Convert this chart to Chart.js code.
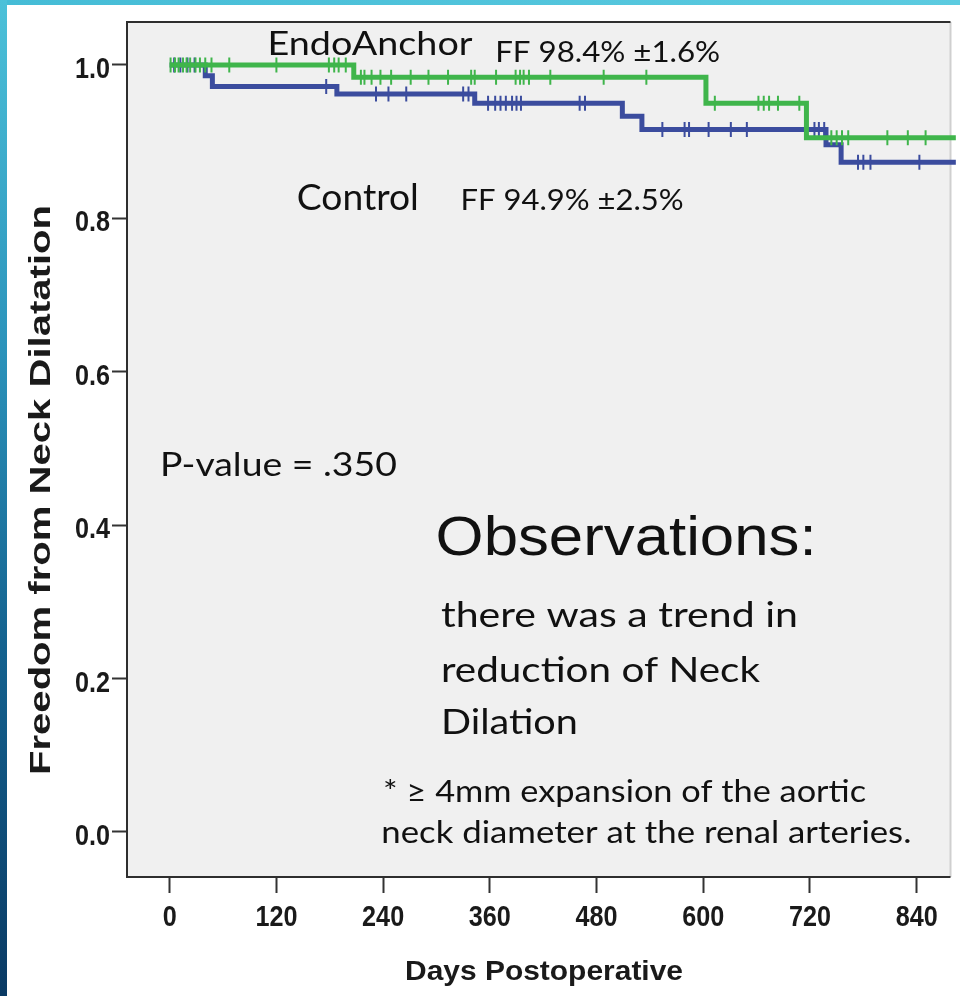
<!DOCTYPE html>
<html>
<head>
<meta charset="utf-8">
<title>Freedom from Neck Dilatation</title>
<script src="https://cdn.jsdelivr.net/npm/chart.js@4.4.1/dist/chart.umd.min.js"></script>
<style>
  html, body { margin: 0; padding: 0; background: #fff; overflow: hidden; }
  #wrap { position: relative; width: 960px; height: 996px; }
  #topbar { position: absolute; left: 0; top: 0; width: 960px; height: 5px; background: linear-gradient(to right, #45bcd6, #5ccbe0); }
  #sidebar { position: absolute; left: 0; top: 0; width: 7px; height: 996px; background: linear-gradient(to bottom, #4cc1d9 0%, #2b93bb 35%, #14628f 65%, #0a3a64 100%); }
  #chart { position: absolute; left: 0; top: 0; }
</style>
</head>
<body>
<div id="wrap">
  <div id="topbar"></div>
  <div id="sidebar"></div>
  <canvas id="chart" width="960" height="996"></canvas>
</div>
<script>
// axis ticks
const xTicks = [0, 120, 240, 360, 480, 600, 720, 840];
const yTicks = [0.0, 0.2, 0.4, 0.6, 0.8, 1.0];

// EndoAnchor group (green): day of each step and survival after it
const endoDays = [0, 207, 603, 716, 884];
const endoSurvival = [1.0, 0.984, 0.950, 0.905, 0.905];
const endoCensored = [1, 6, 10, 15, 19, 23, 29, 34, 40, 47, 67, 120, 179, 185, 190, 198,
  215, 219, 227, 237, 249, 271, 291, 313, 339, 343, 367, 389, 394, 398, 404, 428, 488, 536,
  613, 662, 668, 674, 684, 708, 744, 750, 756, 763, 807, 830, 850];

// Control group (blue)
const controlDays = [0, 40, 48, 188, 343, 509, 531, 738, 755, 884];
const controlSurvival = [1.0, 0.986, 0.972, 0.962, 0.950, 0.933, 0.916, 0.896, 0.873, 0.873];
const controlCensored = [5, 12, 20, 28, 176, 232, 246, 266, 330, 336, 358, 366, 372, 378,
  385, 390, 395, 461, 467, 554, 579, 584, 606, 631, 649, 725, 730, 736, 774, 780, 788, 843];

const green = "#3fb54b";
const blue = "#3b4c9e";

// text on the plot, placed in data coordinates (day, value)
const notes = [
  { text: "EndoAnchor", x: 110, y: 1.013, size: 33, width: 205 },
  { text: "FF 98.4% \u00b11.6%", x: 366, y: 1.004, size: 29, width: 225 },
  { text: "Control", x: 143, y: 0.811, size: 36, width: 122 },
  { text: "FF 94.9% \u00b12.5%", x: 327, y: 0.811, size: 29, width: 223 },
  { text: "P-value = .350", x: -11, y: 0.464, size: 33, width: 237 },
  { text: "Observations:", x: 299, y: 0.361, size: 56, width: 381, family: "'Liberation Sans', Arial, sans-serif" },
  { text: "there was a trend in", x: 305, y: 0.267, size: 34, width: 357 },
  { text: "reduction of Neck", x: 305, y: 0.196, size: 34, width: 319 },
  { text: "Dilation", x: 305, y: 0.128, size: 34, width: 137 },
  { text: "* \u2265 4mm expansion of the aortic", x: 240, y: 0.039, size: 30, width: 483 },
  { text: "neck diameter at the renal arteries.", x: 238, y: -0.014, size: 30, width: 530 }
];

function levelAt(days, surv, d) {
  let v = surv[0];
  for (let i = 0; i < days.length; i++) {
    if (days[i] <= d) v = surv[i];
  }
  return v;
}

function stepPoints(days, surv) {
  return days.map((d, i) => ({ x: d, y: surv[i] }));
}

function censorPoints(days, surv, cens) {
  return cens.map((d) => ({ x: d, y: levelAt(days, surv, d) }));
}

function fitText(ctx, text, x, y, font, width) {
  ctx.font = font;
  const w = ctx.measureText(text).width;
  ctx.save();
  ctx.translate(x, y);
  ctx.scale(width ? width / w : 1, 1);
  ctx.fillText(text, 0, 0);
  ctx.restore();
}

// narrow bold tick labels (Arial Narrow look)
function narrowText(ctx, text, x, y, align) {
  ctx.save();
  ctx.font = "bold 30px 'Liberation Sans', Arial, sans-serif";
  ctx.textAlign = align;
  ctx.translate(x, y);
  ctx.scale(0.84, 1);
  ctx.fillText(text, 0, 0);
  ctx.restore();
}

const framePlugin = {
  id: "frame",
  beforeDatasetsDraw(chart) {
    const { ctx, chartArea: a } = chart;
    ctx.save();
    ctx.fillStyle = "#f0f0f0";
    ctx.fillRect(a.left, a.top, a.right - a.left, a.bottom - a.top);
    ctx.strokeStyle = "#cfcfcf";
    ctx.lineWidth = 2;
    ctx.beginPath();
    ctx.moveTo(a.right, a.top);
    ctx.lineTo(a.right, a.bottom);
    ctx.stroke();
    ctx.strokeStyle = "#2e2e2e";
    ctx.beginPath();
    ctx.moveTo(a.right, a.top);
    ctx.lineTo(a.left, a.top);
    ctx.lineTo(a.left, a.bottom);
    ctx.lineTo(a.right, a.bottom);
    ctx.stroke();
    ctx.restore();
  },
  afterDatasetsDraw(chart) {
    const { ctx } = chart;
    const xs = chart.scales.x;
    const ys = chart.scales.y;
    ctx.save();
    ctx.fillStyle = "#111";
    ctx.textBaseline = "alphabetic";
    ctx.textAlign = "left";
    notes.forEach((n) => {
      const fam = n.family || "Lato, 'Open Sans', sans-serif";
      fitText(ctx, n.text, xs.getPixelForValue(n.x), ys.getPixelForValue(n.y), n.size + "px " + fam, n.width);
    });
    ctx.restore();
  },
  afterDraw(chart) {
    const { ctx, chartArea: a } = chart;
    const xs = chart.scales.x;
    const ys = chart.scales.y;
    ctx.save();
    ctx.fillStyle = "#1a1a1a";
    ctx.textBaseline = "alphabetic";
    // tick labels
    xs.ticks.forEach((t) => {
      narrowText(ctx, String(t.value), xs.getPixelForValue(t.value), a.bottom + 49, "center");
    });
    ys.ticks.forEach((t) => {
      narrowText(ctx, t.value.toFixed(1), a.left - 17, ys.getPixelForValue(t.value) + 13, "right");
    });
    // x axis title
    ctx.textAlign = "left";
    fitText(ctx, "Days Postoperative", 405, 980, "bold 28px 'Liberation Sans', Arial, sans-serif", 278);
    // y axis title, rotated
    ctx.translate(50, 490);
    ctx.rotate(-Math.PI / 2);
    ctx.textAlign = "center";
    fitText(ctx, "Freedom from Neck Dilatation", 0, 0, "bold 29px 'Liberation Sans', Arial, sans-serif", 570);
    ctx.restore();
  }
};

const ctx = document.getElementById("chart").getContext("2d");
const myChart = new Chart(ctx, {
  type: "scatter",
  data: {
    datasets: [
      {
        label: "EndoAnchor censored",
        data: censorPoints(endoDays, endoSurvival, endoCensored),
        pointStyle: "line",
        pointRotation: 90,
        pointRadius: 7.5,
        pointBorderWidth: 2,
        pointBorderColor: green,
        backgroundColor: green,
        clip: 6
      },
      {
        label: "EndoAnchor",
        data: stepPoints(endoDays, endoSurvival),
        showLine: true,
        stepped: true,
        borderColor: green,
        borderWidth: 5,
        pointRadius: 0,
        clip: 6
      },
      {
        label: "Control censored",
        data: censorPoints(controlDays, controlSurvival, controlCensored),
        pointStyle: "line",
        pointRotation: 90,
        pointRadius: 7.5,
        pointBorderWidth: 2,
        pointBorderColor: blue,
        backgroundColor: blue,
        clip: 6
      },
      {
        label: "Control",
        data: stepPoints(controlDays, controlSurvival),
        showLine: true,
        stepped: true,
        borderColor: blue,
        borderWidth: 5,
        pointRadius: 0,
        clip: 6
      }
    ]
  },
  options: {
    responsive: false,
    animation: false,
    layout: { padding: { top: 22, right: 5, left: 0, bottom: 0 } },
    plugins: {
      legend: { display: false },
      tooltip: { enabled: false }
    },
    scales: {
      x: {
        type: "linear",
        min: -48,
        max: 878,
        afterFit: (s) => { s.height = 119; },
        afterBuildTicks: (s) => { s.ticks = xTicks.map((v) => ({ value: v })); },
        grid: { drawOnChartArea: false, drawTicks: true, tickLength: 16, tickWidth: 2, tickColor: "#333" },
        border: { display: false },
        ticks: { display: false }
      },
      y: {
        type: "linear",
        min: -0.0587,
        max: 1.056,
        afterFit: (s) => { s.width = 127; },
        afterBuildTicks: (s) => { s.ticks = yTicks.map((v) => ({ value: v })); },
        grid: { drawOnChartArea: false, drawTicks: true, tickLength: 15, tickWidth: 2, tickColor: "#333" },
        border: { display: false },
        ticks: { display: false }
      }
    }
  },
  plugins: [framePlugin]
});
</script>
</body>
</html>
